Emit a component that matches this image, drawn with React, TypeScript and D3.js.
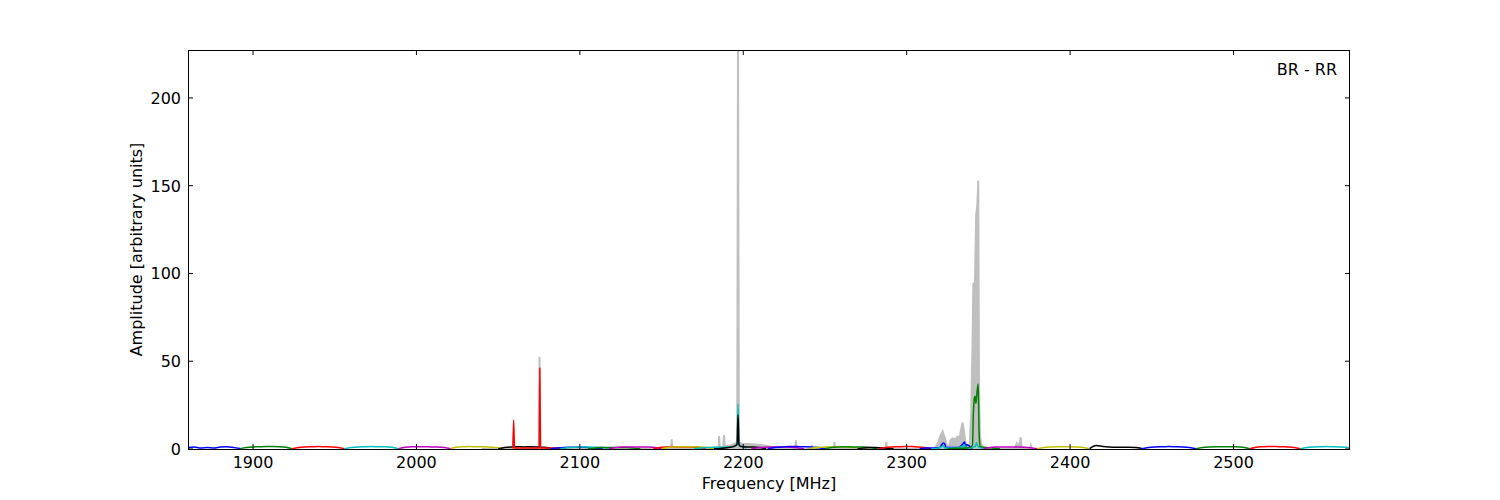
import React from 'react';
import * as d3 from 'd3';

const freqTicks = [1900, 2000, 2100, 2200, 2300, 2400, 2500];
const ampTicks = [0, 50, 100, 150, 200];

// sub-band edges in MHz, and the colour-cycle letter each one was plotted with
const bandStart = [1860, 1892, 1924, 1956, 1989, 2021, 2050, 2059, 2082, 2088, 2105, 2118, 2145, 2150, 2170, 2182,
  2205, 2215, 2240, 2250, 2270, 2283, 2308, 2315, 2325, 2347, 2380, 2412, 2444, 2477, 2510, 2541];
const bandEnd = [1892, 1924, 1956, 1989, 2021, 2053, 2082, 2091, 2114, 2120, 2137, 2150, 2177, 2182, 2202, 2214,
  2237, 2250, 2272, 2282, 2292, 2315, 2340, 2347, 2357, 2380, 2412, 2444, 2477, 2510, 2541, 2573];
const bandKey = ['b', 'g', 'r', 'c', 'm', 'y', 'k', 'r', 'b', 'c', 'g', 'm', 'r', 'y', 'c', 'k',
  'm', 'b', 'y', 'g', 'k', 'r', 'b', 'c', 'g', 'm', 'y', 'k', 'b', 'g', 'r', 'c'];

// amplitude across each sub-band, 9 samples from its start to its end
const bandLevel: number[][] = [
  [0.8, 1.2, 0.6, 0.9, 0.5, 1.1, 1.3, 0.9, 0.3],
  [0.2, 0.9, 1.2, 1.3, 1.4, 1.4, 1.3, 1.0, 0.2],
  [0.1, 0.9, 1.2, 1.3, 1.4, 1.3, 1.2, 0.9, 0.1],
  [0.2, 0.9, 1.2, 1.3, 1.4, 1.3, 1.3, 1.0, 0.2],
  [0.2, 1.0, 1.3, 1.3, 1.3, 1.2, 1.2, 0.9, 0.1],
  [0.3, 1.1, 1.3, 1.4, 1.3, 1.3, 1.1, 0.8, 0.2],
  [0.0, 0.8, 1.2, 1.3, 1.2, 1.3, 1.2, 1.0, 0.5],
  [0.3, 0.5, 0.6, 0.5, 0.6, 0.5, 0.5, 0.5, 0.3],
  [0.2, 0.6, 0.9, 1.0, 1.0, 1.0, 0.9, 0.6, 0.1],
  [0.1, 0.7, 1.0, 1.1, 1.1, 1.0, 1.0, 0.7, 0.1],
  [0.1, 0.5, 0.8, 0.9, 0.9, 0.9, 0.8, 0.5, 0.1],
  [0.1, 0.8, 1.1, 1.2, 1.2, 1.2, 1.1, 0.8, 0.1],
  [0.1, 0.8, 1.1, 1.2, 1.2, 1.2, 1.1, 0.8, 0.1],
  [0.1, 0.9, 1.2, 1.3, 1.3, 1.3, 1.2, 0.9, 0.1],
  [0.1, 0.6, 0.9, 1.0, 1.0, 1.1, 1.3, 2.0, 0.5],
  [0.1, 0.3, 0.7, 1.4, 1.6, 1.2, 1.1, 0.8, 0.1],
  [0.1, 0.7, 1.0, 1.1, 1.1, 1.1, 1.0, 0.7, 0.1],
  [0.1, 0.8, 1.2, 1.4, 1.4, 1.3, 1.2, 0.8, 0.1],
  [0.1, 0.8, 1.0, 1.1, 1.1, 1.1, 1.0, 0.8, 0.1],
  [0.1, 0.9, 1.2, 1.3, 1.2, 1.2, 1.1, 0.8, 0.1],
  [0.1, 0.5, 0.7, 0.8, 0.8, 0.7, 0.6, 0.4, 0.1],
  [0.1, 0.9, 1.2, 1.3, 1.4, 1.4, 1.2, 0.8, 0.1],
  [0.1, 0.5, 0.6, 0.7, 0.8, 0.8, 0.9, 0.7, 0.1],
  [0.1, 0.5, 0.6, 0.5, 0.5, 0.6, 0.6, 3.0, 0.2],
  [0.1, 0.3, 0.4, 0.5, 24, 1.5, 0.8, 0.6, 0.3],
  [0.2, 0.9, 1.1, 1.2, 1.2, 1.1, 1.0, 0.7, 0.1],
  [0.1, 0.9, 1.2, 1.3, 1.3, 1.3, 1.2, 0.9, 0.1],
  [0.2, 2.0, 1.4, 1.1, 1.0, 1.0, 1.0, 0.9, 0.3],
  [0.1, 0.9, 1.2, 1.3, 1.4, 1.3, 1.2, 0.9, 0.1],
  [0.1, 0.9, 1.2, 1.3, 1.3, 1.3, 1.3, 1.0, 0.1],
  [0.1, 1.0, 1.3, 1.4, 1.4, 1.3, 1.2, 0.9, 0.1],
  [0.1, 0.9, 1.2, 1.3, 1.4, 1.3, 1.2, 1.0, 0.1],
];

// narrow lines on top of the sub-band curves: [band index, MHz, amplitude]
const bandPeaks: [number, number, number][] = [
  [7, 2059.5, 16.5], [7, 2060, 0.6], [7, 2075.1, 0.6], [7, 2075.5, 46], [7, 2075.9, 0.6],
  [14, 2196.3, 2.5], [14, 2196.8, 25.6], [14, 2197.3, 2.5],
  [15, 2196.2, 2.5], [15, 2196.8, 19.4], [15, 2197.4, 2.5],
  [22, 2321.5, 2.5], [22, 2322.5, 3.4], [22, 2323.5, 2.5], [22, 2334.5, 3], [22, 2335.5, 4], [22, 2336.5, 2.5],
  [23, 2321.5, 1.4], [23, 2322.3, 2.0], [23, 2322.9, 1.2], [23, 2334.4, 1.5], [23, 2335.3, 2.5], [23, 2336, 1.2],
  [23, 2342, 1.5], [23, 2342.8, 3.5], [23, 2343.6, 1.5],
  [24, 2340.3, 2], [24, 2340.8, 20], [24, 2341.3, 28], [24, 2341.8, 30], [24, 2342.4, 26], [24, 2343, 32],
  [24, 2343.8, 37], [24, 2344.3, 10], [24, 2344.7, 3],
];

// grey trace behind the sub-bands: [MHz, amplitude]
const maxHold: [number, number][] = [
  [2040, 0], [2074.9, 0], [2075.3, 52.5], [2075.8, 0],
  [2155.8, 0], [2156.2, 5.5], [2156.6, 0],
  [2180, 0.5], [2185, 1], [2185.2, 7.4], [2185.6, 1], [2187.8, 1], [2188.2, 8], [2188.6, 1.5],
  [2192, 2], [2195, 3], [2196.3, 4], [2196.8, 240], [2197.3, 4], [2199, 3], [2203, 2.8], [2208, 2.5],
  [2213, 2], [2218, 1], [2225, 0],
  [2231.8, 0], [2232.2, 5], [2232.6, 0], [2241.6, 0], [2241.9, 2.2], [2242.2, 0],
  [2255.4, 0], [2255.8, 4], [2256.2, 0], [2287.1, 0], [2287.5, 4], [2287.9, 0],
  [2317, 0], [2319, 3], [2320.5, 7], [2322, 10], [2323.5, 6], [2324.5, 2], [2326, 1.5], [2326.8, 5],
  [2328, 6], [2330, 5.5], [2331, 7], [2332.5, 7], [2333.5, 12], [2334.3, 15], [2335.2, 9], [2336, 3],
  [2337, 1.5], [2338.5, 2], [2339.5, 20], [2340.3, 60], [2340.8, 94], [2341.8, 95], [2342.5, 133],
  [2343.3, 140], [2343.8, 153], [2344.3, 30], [2344.8, 8], [2345.5, 3], [2347, 1], [2350, 0],
  [2366, 0], [2367.3, 3], [2368, 1], [2369.4, 4], [2369.8, 6.7], [2370.3, 1], [2375.5, 0.5], [2376, 2], [2376.5, 0],
];

const cycle: Record<string, string> = {
  b: '#0000ff', g: '#008000', r: '#ff0000', c: '#00bfbf', m: '#bf00bf', y: '#bfbf00', k: '#000000',
};

const W = 1500, H = 500;
const L = 188, R = 1350, T = 50, B = 449;
const font = 'DejaVu Sans, sans-serif';

export default function App() {
  const x = d3.scaleLinear().domain([1860.2, 2571.3]).range([L, R]);
  const y = d3.scaleLinear().domain([0, 227.3]).range([B, T]);

  const line = d3.line<[number, number]>()
    .x(d => x(d[0]))
    .y(d => y(d[1]))
    .curve(d3.curveMonotoneX);

  const greyArea = d3.area<[number, number]>()
    .x(d => x(d[0]))
    .y0(y(0))
    .y1(d => y(d[1]));
  const greyLine = d3.line<[number, number]>().x(d => x(d[0])).y(d => y(d[1]));

  const bands = bandStart.map((s, i) => {
    const lv = bandLevel[i];
    const step = (bandEnd[i] - s) / (lv.length - 1);
    const pts: [number, number][] = lv.map((v, j) => [s + j * step, v]);
    bandPeaks.filter(p => p[0] === i).forEach(p => pts.push([p[1], p[2]]));
    pts.sort((a, b) => a[0] - b[0]);
    return { pts, color: cycle[bandKey[i]] };
  });

  return (
    <svg width={W} height={H} style={{ position: 'absolute', left: 0, top: 0, background: '#fff' }}
      fontFamily={font}>
      <rect x={0} y={0} width={W} height={H} fill="#fff" />
      <defs>
        <clipPath id="plot">
          <rect x={L} y={T} width={R - L} height={B - T} />
        </clipPath>
      </defs>
      <g clipPath="url(#plot)">
        <path d={greyArea(maxHold) || ''} fill="#bfbfbf" />
        <path d={greyLine(maxHold) || ''} fill="none" stroke="#bfbfbf" strokeWidth={2} />
        {bands.map((b, i) => (
          <path key={i} d={line(b.pts) || ''} fill="none" stroke={b.color} strokeWidth={1.5} />
        ))}
      </g>
      <rect x={L + 0.5} y={T + 0.5} width={R - L - 1} height={B - T} fill="none" stroke="#000" strokeWidth={1} />
      {freqTicks.map(t => (
        <g key={t}>
          <line x1={x(t)} x2={x(t)} y1={B} y2={B - 5} stroke="#000" />
          <line x1={x(t)} x2={x(t)} y1={T} y2={T + 5} stroke="#000" />
          <text x={x(t)} y={468} textAnchor="middle" fontSize={16}>{t}</text>
        </g>
      ))}
      {ampTicks.map(t => (
        <g key={t}>
          <line x1={L} x2={L + 5} y1={y(t)} y2={y(t)} stroke="#000" />
          <line x1={R} x2={R - 5} y1={y(t)} y2={y(t)} stroke="#000" />
          <text x={181} y={y(t) + 6} textAnchor="end" fontSize={16}>{t}</text>
        </g>
      ))}
      <text x={(L + R) / 2} y={489} textAnchor="middle" fontSize={16}>Frequency [MHz]</text>
      <text transform={`translate(142, ${(T + B) / 2}) rotate(-90)`} textAnchor="middle" fontSize={16}>
        Amplitude [arbitrary units]
      </text>
      <text x={1337} y={75} textAnchor="end" fontSize={16}>BR - RR</text>
    </svg>
  );
}
